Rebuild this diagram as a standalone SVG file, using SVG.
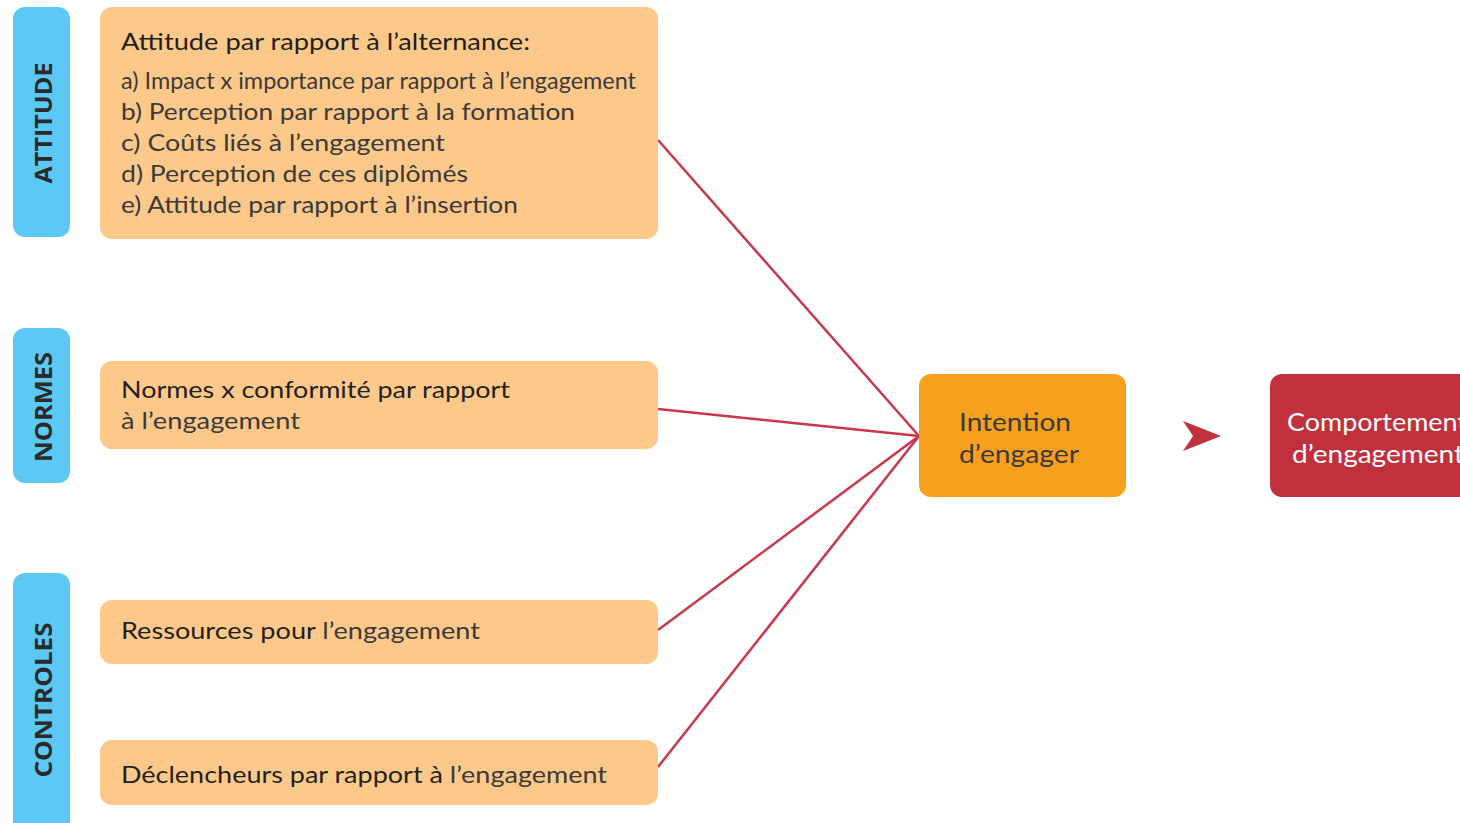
<svg xmlns="http://www.w3.org/2000/svg" width="1460" height="823" viewBox="0 0 1460 823">
<style>
.tab{fill:#5CC9F5}
.box{fill:#FDC98A}
.t{font-family:Lato,"Open Sans","Liberation Sans",sans-serif;font-size:24px;fill:#3a3a3a}
.m{fill:#1f1f1f}
.v{font-family:"Open Sans","Liberation Sans",sans-serif;font-size:23px;font-weight:bold;fill:#2a2a2a;text-anchor:middle}
.c{font-family:Lato,"Open Sans","Liberation Sans",sans-serif;font-size:25px;fill:#3a3a3a;text-anchor:middle}
.link{stroke:#C8384A;stroke-width:2.5;fill:none}
</style>
<rect width="1460" height="823" fill="#ffffff"/>
<g id="connectors">
<line class="link" x1="658" y1="140" x2="919" y2="436"/>
<line class="link" x1="658" y1="409" x2="919" y2="436"/>
<line class="link" x1="658" y1="630" x2="919" y2="436"/>
<line class="link" x1="658" y1="767" x2="919" y2="436"/>
<path d="M1183,421 L1221,436 L1183,451 L1193,436 Z" fill="#C0313D"/>
</g>
<g id="tab-attitude">
<rect class="tab" x="13" y="7" width="57" height="230" rx="12"/>
<text class="v" transform="translate(52,123) rotate(-90)" textLength="121" lengthAdjust="spacingAndGlyphs">ATTITUDE</text>
</g>
<g id="tab-normes">
<rect class="tab" x="13" y="328" width="57" height="155" rx="12"/>
<text class="v" transform="translate(52,407) rotate(-90)" textLength="110" lengthAdjust="spacingAndGlyphs">NORMES</text>
</g>
<g id="tab-controles">
<rect class="tab" x="13" y="573" width="57" height="270" rx="12"/>
<text class="v" transform="translate(52,700) rotate(-90)" textLength="155" lengthAdjust="spacingAndGlyphs">CONTROLES</text>
</g>
<g id="attitude">
<rect class="box" x="100" y="7" width="558" height="232" rx="12"/>
<text class="t m" x="121" y="50" textLength="409" lengthAdjust="spacingAndGlyphs">Attitude par rapport à l’alternance:</text>
<text class="t" x="121" y="89" textLength="515" lengthAdjust="spacingAndGlyphs">a) Impact x importance par rapport à l’engagement</text>
<text class="t" x="121" y="120" textLength="454" lengthAdjust="spacingAndGlyphs">b) Perception par rapport à la formation</text>
<text class="t" x="121" y="151" textLength="324" lengthAdjust="spacingAndGlyphs">c) Coûts liés à l’engagement</text>
<text class="t" x="121" y="182" textLength="347" lengthAdjust="spacingAndGlyphs">d) Perception de ces diplômés</text>
<text class="t" x="121" y="213" textLength="397" lengthAdjust="spacingAndGlyphs">e) Attitude par rapport à l’insertion</text>
</g>
<g id="normes">
<rect class="box" x="100" y="361" width="558" height="88" rx="12"/>
<text class="t m" x="121" y="398" textLength="389" lengthAdjust="spacingAndGlyphs">Normes x conformité par rapport</text>
<text class="t" x="121" y="429" textLength="179" lengthAdjust="spacingAndGlyphs">à l’engagement</text>
</g>
<g id="ressources">
<rect class="box" x="100" y="600" width="558" height="64" rx="12"/>
<text class="t" x="121" y="639" textLength="359" lengthAdjust="spacingAndGlyphs"><tspan class="m">Ressources pour</tspan> l’engagement</text>
</g>
<g id="declencheurs">
<rect class="box" x="100" y="740" width="558" height="65" rx="12"/>
<text class="t" x="121" y="783" textLength="486" lengthAdjust="spacingAndGlyphs"><tspan class="m">Déclencheurs par rapport à</tspan> l’engagement</text>
</g>
<g id="intention">
<rect x="919" y="374" width="207" height="123" rx="12" fill="#F7A01E"/>
<text class="c" x="1015" y="431" textLength="112" lengthAdjust="spacingAndGlyphs">Intention</text>
<text class="c" x="1019" y="463" textLength="120" lengthAdjust="spacingAndGlyphs">d’engager</text>
</g>
<g id="comportement">
<rect x="1270" y="374" width="220" height="123" rx="12" fill="#C0313D"/>
<text class="c" x="1287" y="431" style="text-anchor:start;fill:#ffffff" textLength="180" lengthAdjust="spacingAndGlyphs">Comportement</text>
<text class="c" x="1292" y="463" style="text-anchor:start;fill:#ffffff" textLength="172" lengthAdjust="spacingAndGlyphs">d’engagement</text>
</g>
</svg>
